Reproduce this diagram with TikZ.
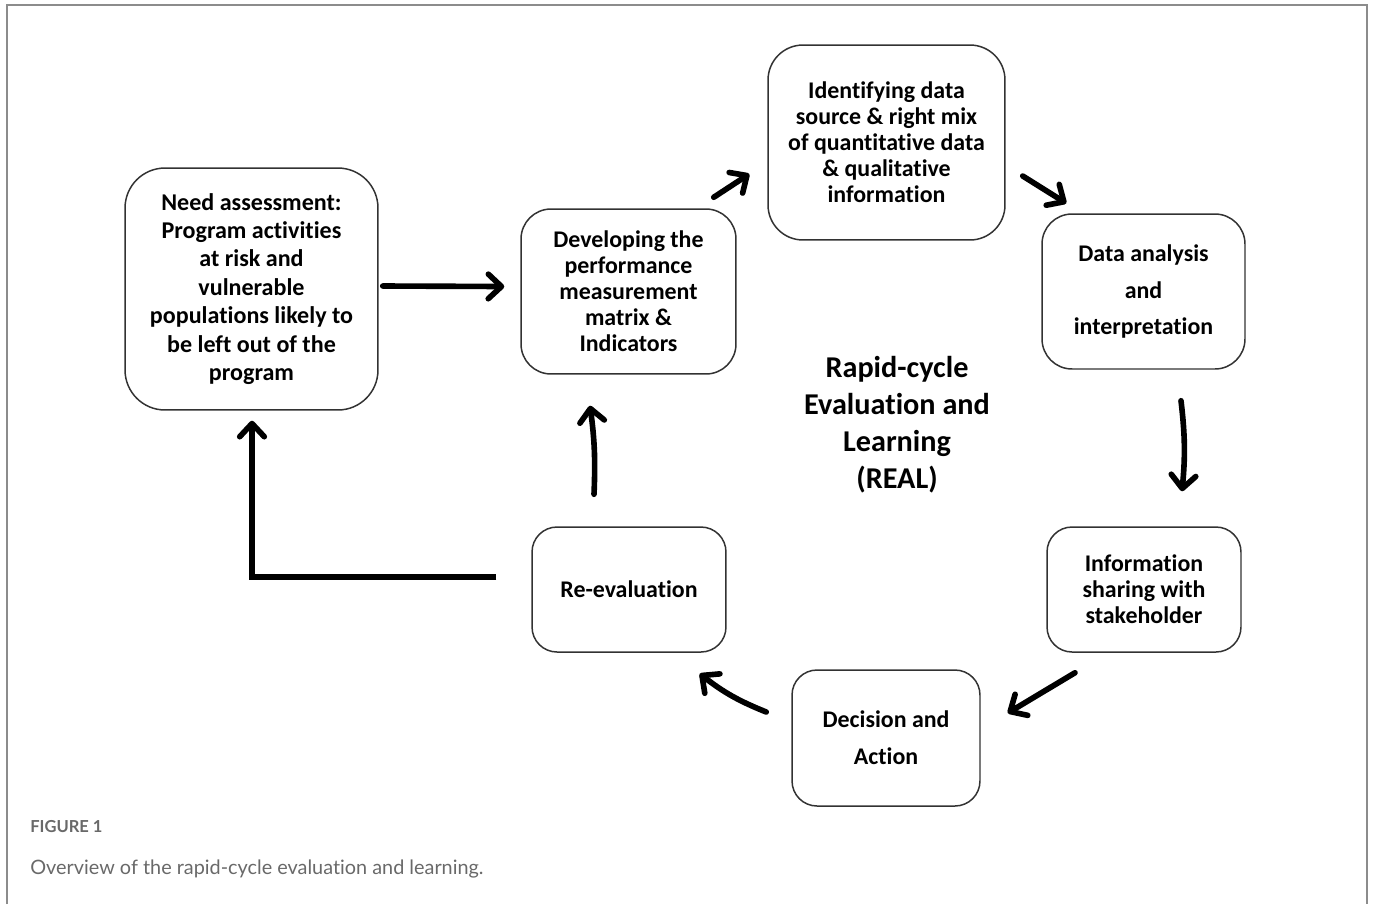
\documentclass[tikz,border=0pt]{standalone}
\usepackage{fontspec}
\setmainfont{Carlito}[Ligatures=NoCommon]
\newfontfamily\captionfont{Lato}[Ligatures=NoCommon]
\definecolor{framegray}{RGB}{140,140,140}
\definecolor{boxgray}{RGB}{50,50,50}
\definecolor{captiongray}{RGB}{105,105,105}
\usetikzlibrary{arrows.meta}

\begin{document}
\begin{tikzpicture}[x=0.02cm, y=-0.02cm,
  stagebox/.style={draw=boxgray, line width=0.85pt, rounded corners=0.6cm, align=center, inner sep=0pt, font=\bfseries\fontsize{13.6}{14.8}\selectfont},
  cyclearrow/.style={line width=3.2pt, line cap=round, line join=round, -{Straight Barb[length=7.5pt, width=14pt, round]}}]
  \useasboundingbox (0,0) rectangle (1375,904);

  %% Figure frame
  \draw[framegray, line width=1.3pt] (7,904) -- (7,5) -- (1367,5) -- (1367,904);

  %% Stages of the cycle
  \node[stagebox, minimum width=5.06cm, minimum height=4.84cm, rounded corners=0.8cm, font=\bfseries\fontsize{13.7}{16.2}\selectfont] (need) at (251.5,289) {Need assessment:\\Program activities\\at risk and\\vulnerable\\populations likely to\\be left out of the\\program};
  \node[stagebox, minimum width=4.3cm, minimum height=3.3cm] (devel) at (628.5,291.5) {Developing the\\performance\\measurement\\matrix \&\\Indicators};
  \node[stagebox, minimum width=4.74cm, minimum height=3.9cm, rounded corners=0.7cm] (ident) at (886.5,142.5) {Identifying data\\source \& right mix\\of quantitative data\\\& qualitative\\information};
  \node[stagebox, minimum width=4.06cm, minimum height=3.1cm, font=\bfseries\fontsize{13.6}{20.5}\selectfont] (anal) at (1143.5,291.5) {Data analysis\\and\\interpretation};
  \node[stagebox, minimum width=3.88cm, minimum height=2.5cm, rounded corners=0.5cm] (share) at (1144,589.5) {Information\\sharing with\\stakeholder};
  \node[stagebox, minimum width=3.76cm, minimum height=2.72cm, rounded corners=0.5cm, font=\bfseries\fontsize{13.6}{21}\selectfont] (act) at (886,738) {Decision and\\Action};
  \node[stagebox, minimum width=3.88cm, minimum height=2.5cm, rounded corners=0.5cm] (reeval) at (629,589.5) {Re-evaluation};

  %% Title in the middle
  \node[font=\bfseries\fontsize{17.2}{21}\selectfont, align=center] (real) at (897,425) {Rapid-cycle\\Evaluation and\\Learning\\(REAL)};

  %% Arrows round the cycle
  \draw[cyclearrow] ([shift={(4,-3)}]need.east) -- ([shift={(-16,-5)}]devel.west);
  \draw[cyclearrow] ([shift={(-23,-11)}]devel.north east) -- ([shift={(-18,31.5)}]ident.west);
  \draw[cyclearrow] ([shift={(17,33.5)}]ident.east) -- ([shift={(25,-10)}]anal.north west);
  \draw[cyclearrow] ([shift={(37.5,31)}]anal.south) to[bend left=6] ([shift={(38,-35)}]share.north);
  \draw[cyclearrow] ([shift={(-69,20)}]share.south) -- ([shift={(27,-25)}]act.east);
  \draw[cyclearrow] ([shift={(-25,-26)}]act.west) to[bend left=8] ([shift={(-27,21)}]reeval.south east);
  \draw[cyclearrow] ([shift={(-35,-32)}]reeval.north) to[bend right=5] ([shift={(-38.5,31)}]devel.south);
  \draw[cyclearrow, line cap=butt, line join=miter] ([shift={(-35,-12.5)}]reeval.west) -| ([shift={(0.5,10)}]need.south);

  %% Caption
  \node[anchor=west, inner sep=0pt, font=\captionfont\bfseries\fontsize{9.4}{11}\selectfont, text=captiongray] (fig) at (30,827) {FIGURE 1};
  \node[anchor=west, inner sep=0pt, font=\captionfont\fontsize{11.3}{13}\selectfont, text=captiongray] (cap) at (30,869) {Overview of the rapid-cycle evaluation and learning.};
\end{tikzpicture}
\end{document}
